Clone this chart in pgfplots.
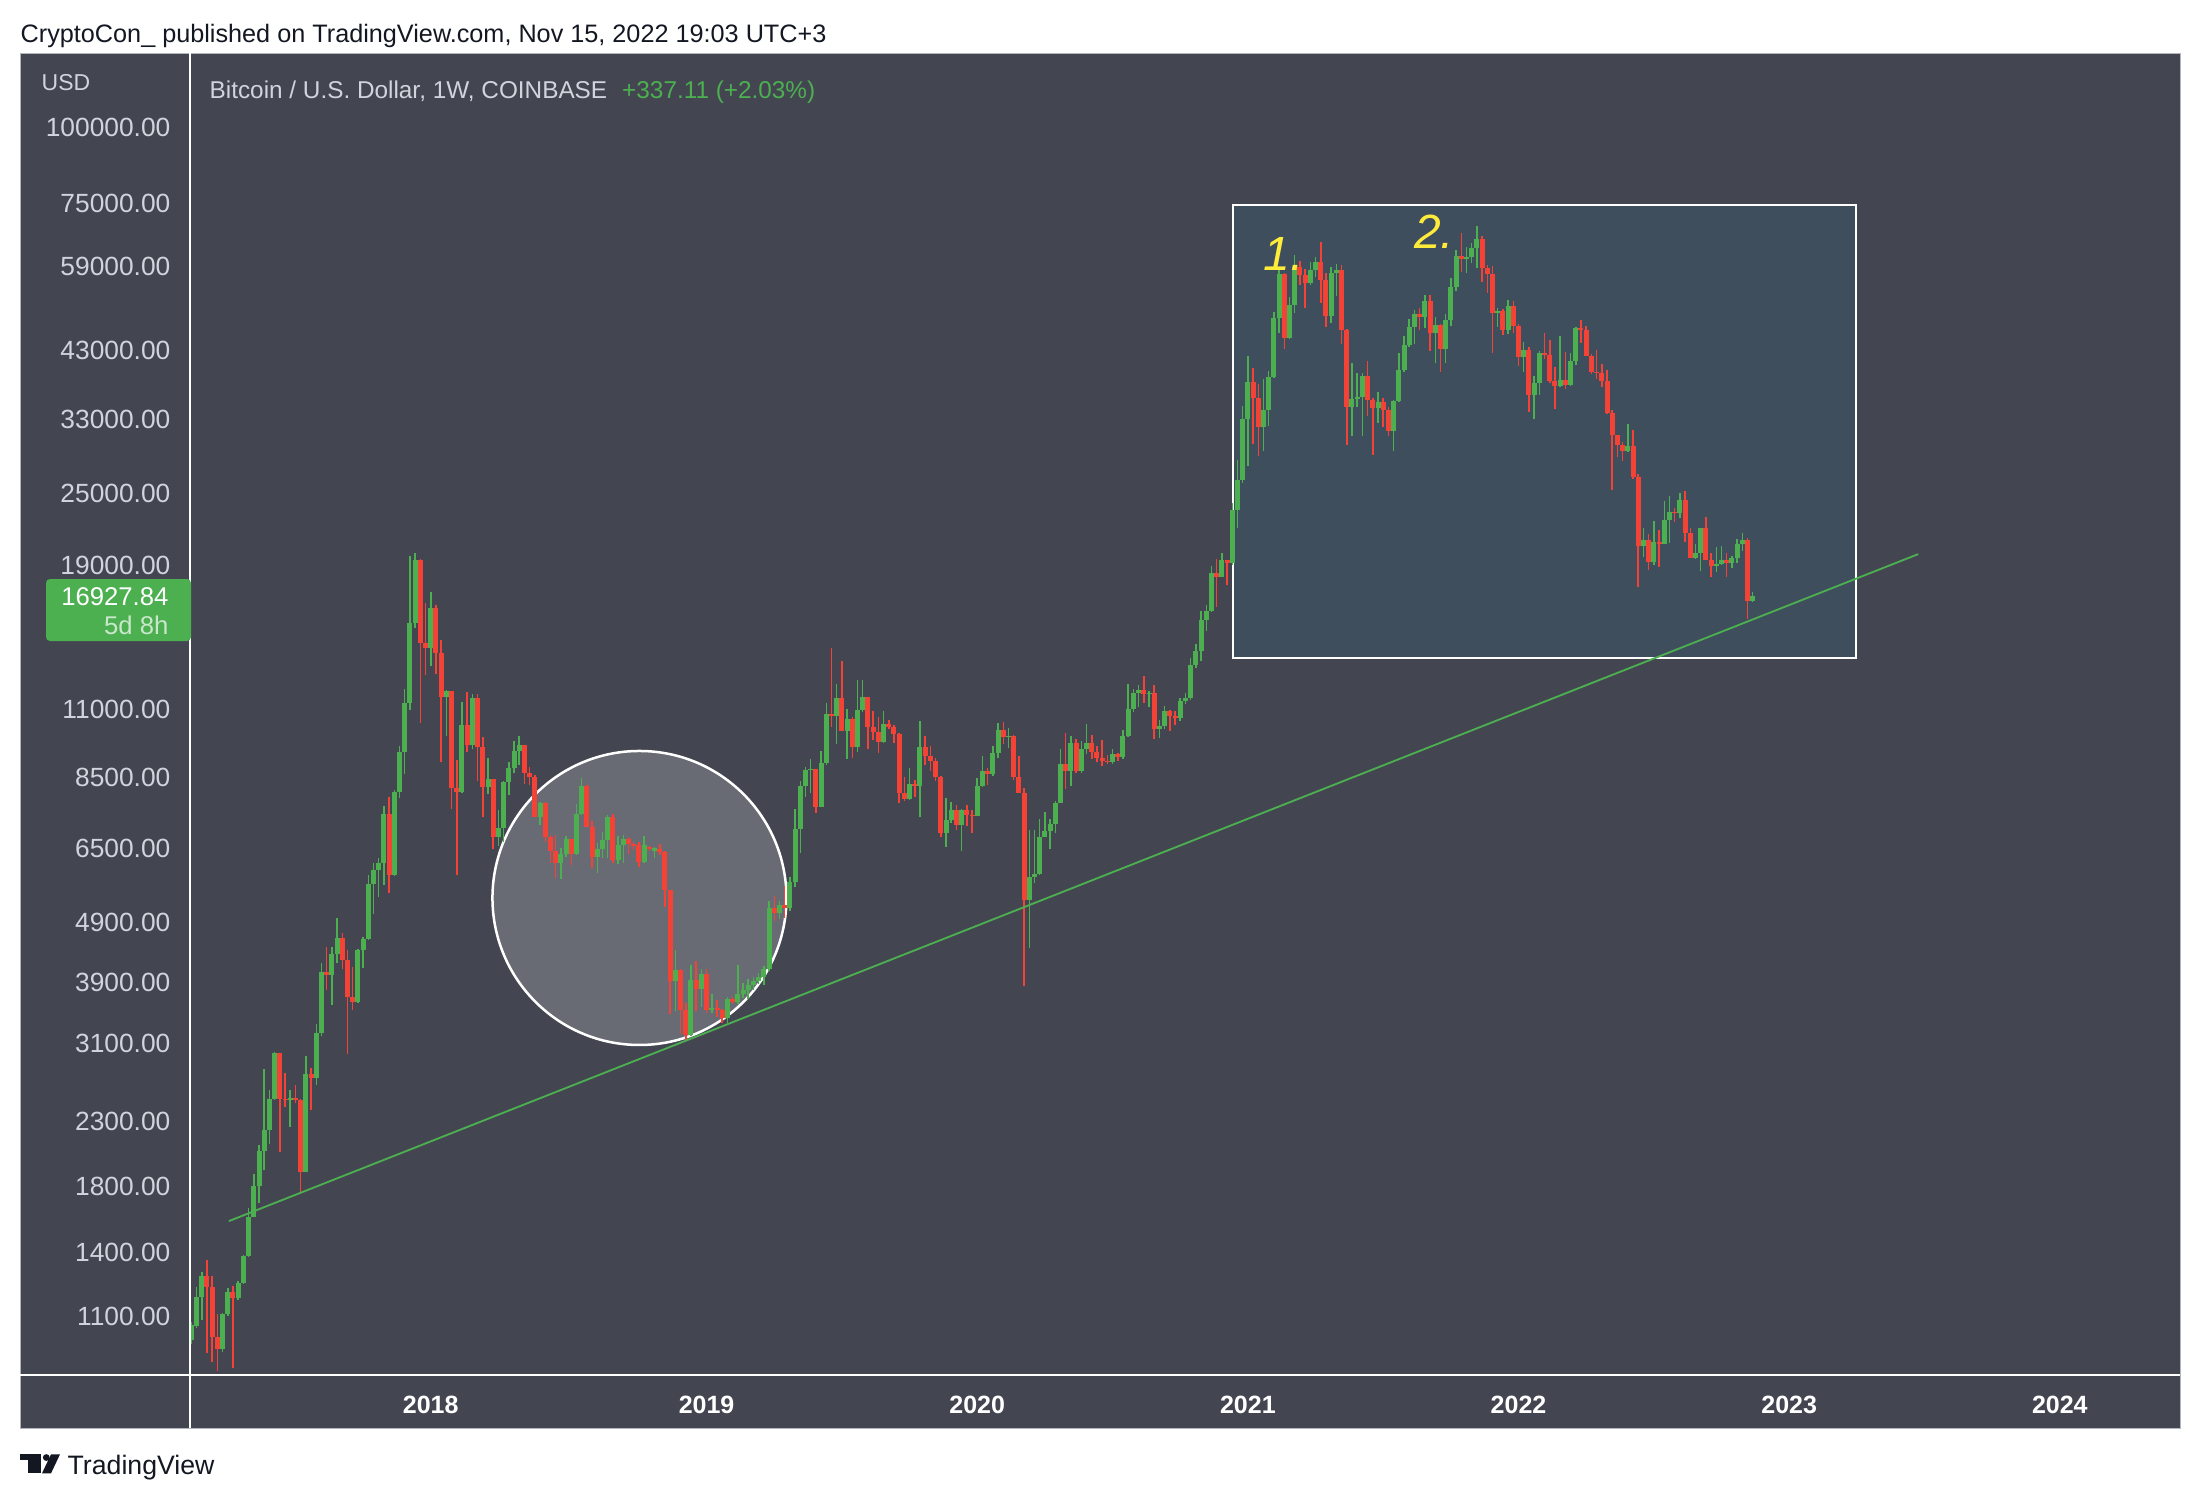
\documentclass[border=0pt]{standalone}
\usepackage{pgfplots}
\pgfplotsset{compat=1.18}
\usepackage{pgfplotstable}
\usepackage{fontspec}
\setmainfont{Liberation Sans}
\definecolor{bg}{RGB}{67,70,81}
\definecolor{tvgreen}{RGB}{76,175,80}
\definecolor{tvred}{RGB}{244,67,54}
\definecolor{tvtxt}{RGB}{209,212,220}
\definecolor{tvdark}{RGB}{19,23,34}
\definecolor{circfill}{RGB}{104,107,116}
\definecolor{rectfill}{RGB}{62,78,92}
\definecolor{tvyellow}{RGB}{255,235,59}
\definecolor{frameg}{RGB}{178,181,190}

% weekly candles, prices in thousands of USD; w = weeks since 1 Jan 2018
\pgfplotstableread{
w o h l c
-46 1.004 1.075 0.988 1.065
-45 1.060 1.227 1.050 1.184
-44 1.184 1.300 1.086 1.280
-43 1.280 1.360 0.958 1.229
-42 1.229 1.280 0.923 1.017
-41 1.017 1.110 0.892 0.973
-40 0.973 1.115 0.962 1.110
-39 1.110 1.222 1.102 1.206
-38 1.206 1.232 0.902 1.180
-37 1.180 1.255 1.170 1.248
-36 1.248 1.390 1.245 1.381
-35 1.381 1.661 1.375 1.603
-34 1.603 1.890 1.600 1.801
-33 1.801 2.103 1.690 2.057
-32 2.057 2.808 1.913 2.228
-31 2.228 2.592 2.111 2.512
-30 2.512 3.000 2.500 2.992
-29 2.992 2.992 2.052 2.512
-28 2.512 2.773 2.434 2.495
-27 2.495 2.600 2.256 2.515
-26 2.515 2.640 2.470 2.500
-25 2.500 2.510 1.753 1.902
-24 1.902 2.950 1.900 2.756
-23 2.756 2.820 2.405 2.720
-22 2.720 3.331 2.640 3.216
-21 3.216 4.197 3.180 4.056
-20 4.056 4.470 3.800 4.020
-19 4.020 4.460 3.580 4.340
-18 4.340 4.980 4.200 4.620
-17 4.620 4.700 4.100 4.250
-16 4.250 4.410 2.980 3.700
-15 3.700 4.140 3.520 3.630
-14 3.630 4.430 3.610 4.410
-13 4.410 4.630 4.120 4.610
-12 4.610 5.860 4.590 5.680
-11 5.680 6.150 5.060 5.990
-10 5.990 6.270 5.400 6.130
-9 6.130 7.620 5.650 7.393
-8 7.393 7.897 5.490 5.866
-7 5.866 8.100 5.850 8.048
-6 8.048 9.590 7.850 9.367
-5 9.367 11.882 8.623 11.253
-4 11.253 19.683 10.955 15.244
-3 15.244 19.880 15.000 19.385
-2 19.385 19.500 10.430 14.165
-1 14.165 16.450 12.519 13.867
0 13.867 17.150 12.950 16.138
1 16.138 16.350 12.600 13.636
2 13.636 14.290 9.019 11.511
3 11.511 11.830 9.953 11.810
4 11.810 11.810 7.543 8.151
5 8.151 9.074 5.866 8.050
6 8.050 11.296 8.000 10.364
7 10.364 11.733 9.350 9.606
8 9.606 11.650 9.450 11.467
9 11.467 11.650 8.393 9.520
10 9.520 9.890 7.320 8.180
11 8.180 9.140 7.990 8.443
12 8.443 8.460 6.465 6.785
13 6.785 7.520 6.560 7.016
14 7.016 8.370 6.650 8.360
15 8.360 9.020 7.960 8.792
16 8.792 9.755 8.630 9.391
17 9.391 9.940 8.900 9.610
18 9.610 9.610 8.300 8.648
19 8.648 8.850 8.270 8.500
20 8.500 8.560 7.320 7.320
21 7.320 7.750 7.100 7.718
22 7.718 7.750 6.650 6.770
23 6.770 6.820 6.148 6.434
24 6.434 6.820 5.791 6.132
25 6.132 6.500 5.790 6.354
26 6.354 6.800 6.280 6.715
27 6.715 6.715 6.100 6.354
28 6.354 7.680 6.340 7.393
29 7.393 8.464 7.370 8.222
30 8.222 8.270 7.035 7.035
31 7.035 7.200 6.018 6.291
32 6.291 6.620 5.915 6.470
33 6.470 6.900 6.250 6.700
34 6.700 7.370 6.250 7.302
35 7.302 7.400 6.140 6.212
36 6.212 6.800 6.120 6.575
37 6.575 6.820 6.140 6.720
38 6.720 6.770 6.350 6.610
39 6.610 6.660 6.460 6.550
40 6.580 6.650 6.040 6.170
41 6.170 6.800 6.150 6.580
42 6.520 6.540 6.430 6.480
43 6.440 6.530 6.270 6.490
44 6.480 6.600 6.330 6.410
45 6.410 6.420 5.190 5.543
46 5.543 5.543 3.467 3.925
47 3.925 4.410 3.500 4.098
48 4.098 4.110 3.205 3.519
49 3.519 3.610 3.134 3.194
50 3.194 4.165 3.190 3.935
51 3.935 4.240 3.500 3.810
52 3.810 4.100 3.560 4.030
53 4.030 4.100 3.480 3.519
54 3.519 3.740 3.480 3.545
55 3.545 3.650 3.420 3.519
56 3.519 3.530 3.350 3.410
57 3.410 3.700 3.350 3.660
58 3.660 3.700 3.600 3.620
59 3.620 4.170 3.600 3.740
60 3.740 3.900 3.680 3.800
61 3.800 3.950 3.670 3.860
62 3.870 3.980 3.790 3.930
63 3.930 4.040 3.880 3.990
64 3.990 4.150 3.870 4.100
65 4.100 5.320 4.070 5.175
66 5.175 5.420 4.920 5.080
67 5.080 5.310 4.960 5.240
68 5.240 5.620 4.980 5.180
69 5.180 5.830 5.120 5.720
70 5.720 7.550 5.600 6.982
71 6.982 8.390 6.370 8.210
72 8.210 8.840 7.890 8.750
73 8.740 9.100 8.000 8.760
74 8.760 8.760 7.439 7.609
75 7.609 9.390 7.600 8.964
76 8.964 11.280 8.900 10.830
77 10.830 13.866 10.300 10.730
78 10.730 12.100 9.665 11.467
79 11.467 13.215 10.140 10.140
80 10.140 11.000 9.110 10.590
81 10.590 10.680 9.150 9.520
82 9.520 12.290 9.360 10.970
83 10.970 12.290 10.900 11.540
84 11.540 11.540 9.480 10.300
85 10.300 10.950 9.800 10.100
86 10.100 10.700 9.340 9.730
87 9.730 10.950 9.700 10.400
88 10.400 10.550 10.200 10.300
89 10.300 10.350 9.680 10.020
90 10.020 10.050 7.720 8.025
91 8.025 8.520 7.760 7.840
92 7.840 8.800 7.800 8.290
93 8.290 8.420 7.900 8.220
94 8.220 10.530 7.300 9.520
95 9.520 9.950 8.900 9.200
96 9.200 9.560 8.700 9.030
97 9.030 9.150 8.370 8.510
98 8.510 8.530 6.780 6.885
99 6.885 7.850 6.530 7.240
100 7.240 7.740 7.150 7.507
101 7.507 7.660 6.970 7.090
102 7.090 7.550 6.432 7.507
103 7.507 7.660 7.080 7.380
104 7.380 7.500 6.880 7.350
105 7.350 8.470 7.350 8.210
106 8.210 9.200 8.200 8.720
107 8.720 8.820 8.260 8.620
108 8.620 9.570 8.550 9.330
109 9.330 10.440 9.150 10.165
110 10.165 10.500 9.650 9.890
111 9.890 10.250 9.500 9.950
112 9.950 9.990 8.420 8.510
113 8.510 9.200 8.000 8.025
114 8.025 8.150 3.857 5.330
115 5.330 6.970 4.450 5.825
116 5.825 6.970 5.700 5.880
117 5.880 7.270 5.870 6.780
118 6.780 7.450 6.780 6.930
119 6.930 7.250 6.480 7.120
120 7.120 7.780 6.880 7.720
121 7.720 9.480 7.700 8.925
122 8.925 10.060 8.125 8.720
123 8.720 9.950 8.240 9.680
124 9.680 9.850 8.650 8.700
125 8.700 9.750 8.640 9.450
126 9.450 10.400 9.280 9.700
127 9.700 10.000 9.120 9.350
128 9.350 9.560 9.000 9.150
129 9.150 9.800 8.870 9.050
130 9.050 9.250 8.950 9.000
131 9.000 9.450 8.950 9.280
132 9.280 9.330 9.050 9.180
133 9.180 10.180 9.120 9.945
134 9.945 12.100 9.900 11.035
135 11.035 11.900 10.900 11.710
136 11.710 12.050 11.100 11.850
137 11.850 12.470 11.290 11.660
138 11.660 11.800 11.120 11.710
139 11.710 12.050 9.820 10.200
140 10.200 10.580 9.880 10.320
141 10.320 11.150 10.200 10.940
142 10.940 10.970 10.140 10.740
143 10.740 10.940 10.370 10.660
144 10.660 11.480 10.530 11.370
145 11.370 11.720 11.230 11.500
146 11.500 13.360 11.400 13.020
147 13.020 14.100 12.870 13.750
148 13.750 15.960 13.200 15.470
149 15.470 16.350 14.840 15.960
150 15.960 18.950 15.900 18.430
151 18.430 19.440 16.200 18.200
152 18.200 19.900 18.200 19.380
153 19.380 19.400 17.650 19.200
154 19.200 24.100 19.000 23.430
155 23.430 28.360 21.900 26.280
156 26.280 34.800 26.000 33.080
157 33.080 42.050 27.700 38.160
158 38.160 40.120 30.120 35.810
159 35.810 37.820 28.810 32.160
160 32.160 38.500 29.300 34.300
161 34.300 39.700 32.300 38.900
162 38.900 49.750 38.640 48.500
163 48.500 58.280 45.810 57.400
164 57.400 57.540 43.120 45.080
165 45.080 52.530 44.800 51.030
166 51.030 61.680 49.440 58.870
167 58.870 60.370 55.050 57.190
168 57.190 58.430 50.390 55.540
169 55.540 60.150 55.050 58.280
170 58.280 61.300 56.680 60.060
171 60.060 64.900 51.360 56.110
172 56.110 57.540 47.000 48.940
173 48.940 58.900 47.600 57.600
174 57.600 59.620 52.810 58.280
175 58.280 59.500 44.010 46.410
176 46.410 46.530 29.990 34.690
177 34.690 40.900 31.100 35.670
178 35.670 39.500 34.690 35.950
179 35.950 39.370 31.050 38.980
180 38.980 41.270 33.430 35.580
181 35.580 35.810 28.880 34.470
182 34.470 36.730 32.650 35.360
183 35.360 35.810 32.160 34.260
184 34.260 34.690 31.050 31.680
185 31.680 35.580 29.350 35.490
186 35.490 42.570 35.310 39.880
187 39.880 45.390 39.630 43.840
188 43.840 48.320 43.560 47.000
189 47.000 50.080 44.010 49.310
190 49.310 50.390 46.410 48.690
191 48.690 53.000 46.700 51.800
192 51.800 53.000 42.910 45.920
193 45.920 48.690 40.900 47.290
194 47.290 47.400 39.630 43.120
195 43.120 49.310 40.900 48.200
196 48.200 56.450 47.120 54.700
197 54.700 62.880 53.870 61.470
198 61.470 66.980 57.910 60.670
199 60.670 63.510 57.680 61.300
200 61.300 64.480 59.930 63.280
201 63.280 68.870 58.640 65.470
202 65.470 66.300 55.760 58.640
203 58.640 59.400 53.470 57.320
204 57.320 59.160 42.470 49.440
205 49.440 50.390 46.880 49.950
206 49.950 50.200 45.530 46.410
207 46.410 52.000 45.710 50.840
208 50.840 51.900 45.810 47.120
209 47.120 47.470 40.490 41.830
210 41.830 44.390 39.630 43.010
211 43.010 43.560 34.040 36.260
212 36.260 38.980 33.060 38.020
213 38.020 42.800 36.300 42.490
214 42.490 45.950 41.600 42.200
215 42.200 44.670 38.000 38.280
216 38.280 40.290 34.340 37.520
217 37.520 45.370 37.400 38.450
218 38.450 42.700 37.100 37.700
219 37.700 42.500 37.500 41.270
220 41.270 47.000 40.600 46.830
221 46.830 48.200 44.200 46.400
222 46.400 47.100 42.000 42.070
223 42.070 42.300 39.300 39.640
224 39.640 43.000 38.500 39.400
225 39.400 40.800 37.400 38.280
226 38.280 39.900 33.800 33.900
227 33.900 34.200 25.300 31.160
228 31.160 31.200 28.630 30.050
229 30.050 30.300 28.200 29.300
230 29.300 32.470 29.200 29.850
231 29.850 31.800 26.400 26.540
232 26.540 26.900 17.500 20.430
233 20.430 21.900 19.650 20.900
234 20.900 21.400 18.700 19.280
235 19.280 22.510 19.030 20.770
236 20.770 21.700 18.900 20.600
237 20.600 24.300 20.600 22.550
238 22.550 24.700 20.700 23.300
239 23.300 23.600 22.400 23.150
240 23.150 25.000 22.700 24.360
241 24.360 25.200 20.800 21.460
242 21.460 21.900 19.540 19.540
243 19.540 20.600 19.500 19.950
244 19.950 21.870 18.580 21.870
245 21.870 22.800 19.360 19.360
246 19.360 19.900 18.200 18.950
247 18.950 20.380 18.500 19.100
248 19.100 20.450 19.000 19.400
249 19.400 19.900 18.200 19.200
250 19.200 19.700 18.800 19.550
251 19.550 21.000 19.200 20.590
252 20.590 21.450 20.100 20.900
253 20.900 21.050 15.500 16.590
254 16.590 17.190 16.530 16.928
}\candles

\pgfplotsset{
  greenonly/.style={restrict expr to domain={\thisrow{c}-\thisrow{o}}{0:1000}},
  redonly/.style={restrict expr to domain={\thisrow{c}-\thisrow{o}}{-1000:-0.0000001}},
  candle/.style 2 args={draw=none, mark=none, forget plot,
    error bars/y dir=plus, error bars/y explicit, error bars/error mark=none,
    error bars/error bar style={draw=#1, line width=#2, line cap=butt}},
}

\begin{document}
\begin{tikzpicture}
\path[use as bounding box] (0,0) rectangle (660pt,-450pt);
\begin{scope}[x=0.3pt,y=-0.3pt]
  \fill[bg] (20,53) rectangle (2180,1428);
  \draw[frameg, line width=0.3pt] (20,53) rectangle (2180,1428);
  \node[anchor=base west, text=tvdark, inner sep=0pt, font=\fontsize{7.57pt}{8pt}\selectfont] at (20,42) {CryptoCon\_ published on TradingView.com, Nov 15, 2022 19:03 UTC+3};
\end{scope}

\begin{axis}[
  at={(56.7pt,-412.5pt)}, anchor=south west,
  scale only axis, width=597.3pt, height=396.6pt,
  xmin=-46.45, xmax=336.1,
  ymode=log, ymin=0.8799, ymax=132.78,
  axis line style={draw=none},
  major tick length=0pt, minor tick length=0pt,
  tick style={draw=none}, minor tick num=0,
  ytick={1.1,1.4,1.8,2.3,3.1,3.9,4.9,6.5,8.5,11,19,25,33,43,59,75,100},
  yticklabels={1100.00,1400.00,1800.00,2300.00,3100.00,3900.00,4900.00,6500.00,8500.00,11000.00,19000.00,25000.00,33000.00,43000.00,59000.00,75000.00,100000.00},
  yticklabel style={anchor=east, inner sep=0pt, xshift=-5.4pt, text=tvtxt, font=\fontsize{7.9pt}{8pt}\selectfont},
  xtick={0,53,105,157,209,261,313},
  xticklabels={2018,2019,2020,2021,2022,2023,2024},
  xticklabel style={anchor=base, inner sep=0pt, yshift=-11.5pt, text=white, font=\fontsize{7.5pt}{8pt}\selectfont\bfseries},
  clip=true,
]
% highlight regions behind the candles
\fill[rectfill] (axis cs:154.1,13.37) rectangle (axis cs:273.9,74.57);
\draw[white, line width=0.6pt] (axis cs:154.1,13.37) rectangle (axis cs:273.9,74.57);
\fill[circfill] (axis cs:40.1,5.378) circle[radius=44.1pt];
\draw[white, line width=0.75pt] (axis cs:40.1,5.378) circle[radius=44.1pt];
% wicks
\addplot[candle={tvgreen}{0.45pt}, greenonly] table[x=w, y=l, y error plus expr=\thisrow{h}-\thisrow{l}] {\candles};
\addplot[candle={tvred}{0.45pt}, redonly] table[x=w, y=l, y error plus expr=\thisrow{h}-\thisrow{l}] {\candles};
% bodies
\addplot[candle={tvgreen}{1.5pt}, greenonly] table[x=w, y=o, y error plus expr=\thisrow{c}-\thisrow{o}] {\candles};
\addplot[candle={tvred}{1.5pt}, redonly] table[x=w, y=c, y error plus expr=\thisrow{o}-\thisrow{c}] {\candles};
% trend line
\addplot[tvgreen, line width=0.55pt, mark=none, forget plot] coordinates {(-38.8,1.578) (285.8,19.83)};
\node[anchor=base west, inner sep=0pt, text=tvyellow, font=\fontsize{14.4pt}{16pt}\selectfont\itshape] at (axis cs:159.9,58.27) {1.};
\node[anchor=base west, inner sep=0pt, text=tvyellow, font=\fontsize{14.4pt}{16pt}\selectfont\itshape] at (axis cs:188.8,63.35) {2.};
\end{axis}

\begin{scope}[x=0.3pt,y=-0.3pt]
  \draw[white, line width=0.6pt] (190,53) -- (190,1428);
  \draw[white, line width=0.6pt] (20,1375) -- (2180,1375);
  \node[anchor=base west, inner sep=0pt, text=tvtxt, font=\fontsize{6.9pt}{8pt}\selectfont] at (41,90) {USD};
  \node[anchor=base west, inner sep=0pt, text=tvtxt, font=\fontsize{7.3pt}{8pt}\selectfont] at (209,98) {Bitcoin / U.S. Dollar, 1W, COINBASE\hspace{4.5pt}\textcolor{tvgreen}{+337.11 (+2.03\%)}};
  \fill[tvgreen, rounded corners=1.2pt] (46,579) rectangle (191,641);
  \node[anchor=base east, inner sep=0pt, text=white, font=\fontsize{7.7pt}{8pt}\selectfont] at (169,605) {16927.84};
  \node[anchor=base east, inner sep=0pt, text=white!70!tvgreen, font=\fontsize{7.7pt}{8pt}\selectfont] at (169,634) {5d 8h};
  % TradingView logo
  \fill[tvdark] (19.6,1454.3) rectangle (40.7,1460);
  \fill[tvdark] (28,1454.3) rectangle (40.7,1473.3);
  \fill[tvdark] (46.3,1457.5) circle[radius=3.4];
  \fill[tvdark] (51,1454.3) -- (60,1454.3) -- (51,1473.3) -- (42,1473.3) -- cycle;
  \node[anchor=base west, inner sep=0pt, text=tvdark, font=\fontsize{8.0pt}{8pt}\selectfont] at (67,1474) {TradingView};
\end{scope}
\end{tikzpicture}
\end{document}
